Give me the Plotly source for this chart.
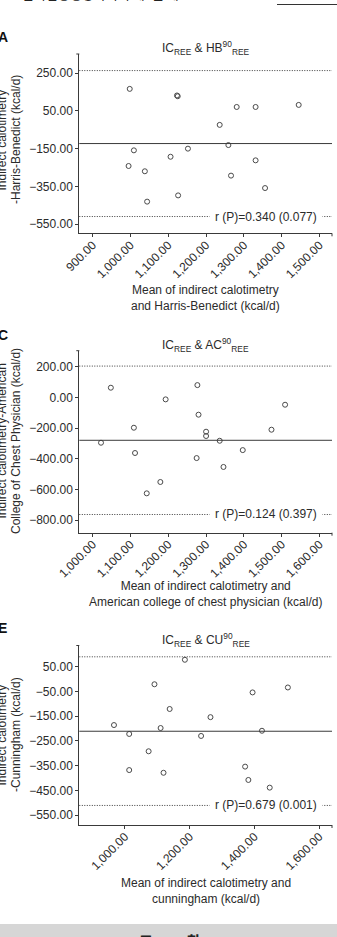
import plotly.graph_objects as go

W, H = 337, 937

# ---------------- data ----------------
# Panel A: IC vs Harris-Benedict
A_x = [998, 1123, 1125, 1281, 1331, 1445, 1236, 1259, 1009, 1152, 1106, 995, 1331, 1038, 1266, 1356, 1126, 1044]
A_y = [167, 132, 128, 71, 71, 82, -24, -131, -159, -150, -193, -242, -212, -270, -293, -359, -398, -431]
A_mean, A_upper, A_lower = -123, 264, -510
A_xticks = [900, 1000, 1100, 1200, 1300, 1400, 1500]
A_yticks = [250, 50, -150, -350, -550]
A_title = "IC<sub>REE</sub> & HB<sup>90</sup><sub>REE</sub>"
A_ytitle = ["Indirect calotimetry", "-Harris-Benedict (kcal/d)"]
A_xtitle = "Mean of indirect calotimetry<br>and Harris-Benedict (kcal/d)"
A_rtext = "r (P)=0.340 (0.077)"

# Panel C: IC vs American College of Chest Physician
C_x = [1022, 1048, 1109, 1112, 1143, 1179, 1193, 1277, 1280, 1275, 1300, 1300, 1336, 1346, 1397, 1473, 1509]
C_y = [-296, 63, -198, -363, -626, -552, -13, 80, -113, -396, -224, -252, -283, -454, -344, -211, -48]
C_mean, C_upper, C_lower = -280, 204, -764
C_xticks = [1000, 1100, 1200, 1300, 1400, 1500, 1600]
C_yticks = [200, 0, -200, -400, -600, -800]
C_title = "IC<sub>REE</sub> & AC<sup>90</sup><sub>REE</sub>"
C_ytitle = ["Indirect calotimetry-American", "College of Chest Physician (kcal/d)"]
C_xtitle = "Mean of indirect calotimetry and<br>American college of chest physician (kcal/d)"
C_rtext = "r (P)=0.124 (0.397)"

# Panel E: IC vs Cunningham
E_x = [966, 1013, 1013, 1073, 1091, 1110, 1119, 1138, 1185, 1235, 1264, 1371, 1381, 1394, 1423, 1447, 1503]
E_y = [-186, -222, -368, -292, -21, -198, -379, -121, 78, -230, -154, -354, -408, -54, -209, -439, -34]
E_mean, E_upper, E_lower = -211, 90, -511
E_xticks = [1000, 1200, 1400, 1600]
E_yticks = [50, -50, -150, -250, -350, -450, -550]
E_title = "IC<sub>REE</sub> & CU<sup>90</sup><sub>REE</sub>"
E_ytitle = ["Indirect calotimetry", "-Cunningham (kcal/d)"]
E_xtitle = "Mean of indirect calotimetry and<br>cunningham (kcal/d)"
E_rtext = "r (P)=0.679 (0.001)"

# ---------------- layout (pixels) ----------------
TXT = "#2b2b2b"
LINE = "#3a3a3a"
FONT = "Liberation Sans, Arial, sans-serif"
PLOT_L, PLOT_R = 79.3, 332.0

panels = [
    dict(letter="A", x=A_x, y=A_y, mean=A_mean, up=A_upper, lo=A_lower, xt=A_xticks, yt=A_yticks,
         title=A_title, ytitle=A_ytitle, xtitle=A_xtitle, rtext=A_rtext,
         top=54.0, bot=233.3, xr=[864.6, 1533.1], yr=[-599, 352], letter_y=37.5, ytc=140, xtitle_y=298.4),
    dict(letter="C", x=C_x, y=C_y, mean=C_mean, up=C_upper, lo=C_lower, xt=C_xticks, yt=C_yticks,
         title=C_title, ytitle=C_ytitle, xtitle=C_xtitle, rtext=C_rtext,
         top=350.7, bot=532.7, xr=[964.6, 1633.1], yr=[-882.8, 304.4], letter_y=335, ytc=441, xtitle_y=594.3),
    dict(letter="E", x=E_x, y=E_y, mean=E_mean, up=E_upper, lo=E_lower, xt=E_xticks, yt=E_yticks,
         title=E_title, ytitle=E_ytitle, xtitle=E_xtitle, rtext=E_rtext,
         top=645.5, bot=825.0, xr=[858.9, 1639.3], yr=[-590.1, 135.7], letter_y=628, ytc=735, xtitle_y=890.5),
]

def px(xp):
    return xp / W

def py(yp):
    return 1 - yp / H

fig = go.Figure()
annotations = []
shapes = []
layout_axes = {}

for i, p in enumerate(panels, start=1):
    sx = "" if i == 1 else str(i)
    xa, ya = "x" + sx, "y" + sx
    fig.add_trace(go.Scatter(
        x=p["x"], y=p["y"], mode="markers", xaxis=xa, yaxis=ya, showlegend=False,
        marker=dict(symbol="circle-open", size=5, color="#4a4a4a", line=dict(width=1, color="#4a4a4a")),
        hoverinfo="skip"))
    layout_axes["xaxis" + sx] = dict(
        domain=[px(PLOT_L), px(PLOT_R)], range=p["xr"], anchor=ya, automargin=False,
        tickvals=p["xt"], tickformat=",.2f", tickangle=-45, ticklabelstandoff=-4,
        showline=True, linecolor=LINE, linewidth=1, ticks="outside", ticklen=3, tickcolor=LINE,
        showgrid=False, zeroline=False, tickfont=dict(size=12, color=TXT, family=FONT))
    layout_axes["yaxis" + sx] = dict(
        domain=[py(p["bot"]), py(p["top"])], range=p["yr"], anchor=xa, automargin=False,
        tickvals=p["yt"], tickformat=".2f",
        showline=True, linecolor=LINE, linewidth=1, ticks="outside", ticklen=3, tickcolor=LINE,
        showgrid=False, zeroline=False, tickfont=dict(size=12, color=TXT, family=FONT))

    xd, yd = xa + " domain", ya + " domain"
    # mean line and limits
    shapes.append(dict(type="line", xref=xd, yref=ya, x0=0, x1=1, y0=p["mean"], y1=p["mean"],
                       line=dict(color=LINE, width=1)))
    for v in (p["up"], p["lo"]):
        shapes.append(dict(type="line", xref=xd, yref=ya, x0=0, x1=1, y0=v, y1=v,
                           line=dict(color=LINE, width=1, dash="1px,1.5px")))
    # axis end ticks
    shapes.append(dict(type="line", xref=xd, yref=yd, x0=-3 / (PLOT_R - PLOT_L), x1=0, y0=1, y1=1,
                       line=dict(color=LINE, width=1)))
    shapes.append(dict(type="line", xref=xd, yref=yd, x0=1, x1=1, y0=0, y1=-3 / (p["bot"] - p["top"]),
                       line=dict(color=LINE, width=1)))

    # r(P) label breaking the lower line
    annotations.append(dict(xref="paper", yref=ya, x=px(266), y=p["lo"], text=p["rtext"],
                            showarrow=False, xanchor="center", yanchor="middle",
                            bgcolor="white", borderpad=5,
                            font=dict(size=12, color=TXT, family=FONT)))
    # panel title
    annotations.append(dict(xref="paper", yref="paper", x=px((PLOT_L + PLOT_R) / 2), y=py(p["top"] + 5),
                            text=p["title"], showarrow=False, xanchor="center", yanchor="bottom",
                            font=dict(size=12, color=TXT, family=FONT)))
    # panel letter
    annotations.append(dict(xref="paper", yref="paper", x=px(-4), y=py(p["letter_y"]),
                            text="<b>" + p["letter"] + "</b>", showarrow=False, xanchor="left",
                            yanchor="middle", font=dict(size=14, color="#111", family=FONT)))
    # y-axis title (two lines, partly cut at left edge)
    for xc, t in zip((1.5, 16.0), p["ytitle"]):
        annotations.append(dict(xref="paper", yref="paper", x=px(xc), y=py(p["ytc"]), text=t,
                                textangle=-90, showarrow=False, xanchor="center", yanchor="middle",
                                font=dict(size=12, color=TXT, family=FONT)))
    # x-axis title
    annotations.append(dict(xref="paper", yref="paper", x=px(205.7), y=py(p["xtitle_y"]),
                            text=p["xtitle"], showarrow=False, xanchor="center", yanchor="middle",
                            font=dict(size=12, color=TXT, family=FONT)))

# page header (cut at the top) and section bar at the bottom
annotations.append(dict(xref="paper", yref="paper", x=px(-4), y=py(5), xanchor="left", yanchor="bottom",
                        text="<b>20</b>   한국임상영양학회지 제6권 제1호 2016", showarrow=False,
                        font=dict(size=13, color="#222", family="Noto Sans CJK KR")))
shapes.append(dict(type="line", xref="paper", yref="paper", x0=px(277), x1=1, y0=py(4.5), y1=py(4.5),
                   line=dict(color="#333", width=1)))
shapes.append(dict(type="rect", xref="paper", yref="paper", x0=0, x1=1, y0=py(937), y1=py(924),
                   fillcolor="#d6d6d6", line=dict(width=0), layer="below"))
annotations.append(dict(xref="paper", yref="paper", x=px(170), y=py(928), xanchor="center", yanchor="top",
                        text="<b>고          찰</b>", showarrow=False,
                        font=dict(size=15, color="#222", family="Noto Sans CJK KR")))

fig.update_layout(
    width=W, height=H, margin=dict(l=0, r=0, t=0, b=0, autoexpand=False),
    paper_bgcolor="white", plot_bgcolor="white",
    font=dict(family=FONT, color=TXT),
    annotations=annotations, shapes=shapes, showlegend=False,
    **layout_axes)

fig.write_html("out.html", config={"displayModeBar": False})
